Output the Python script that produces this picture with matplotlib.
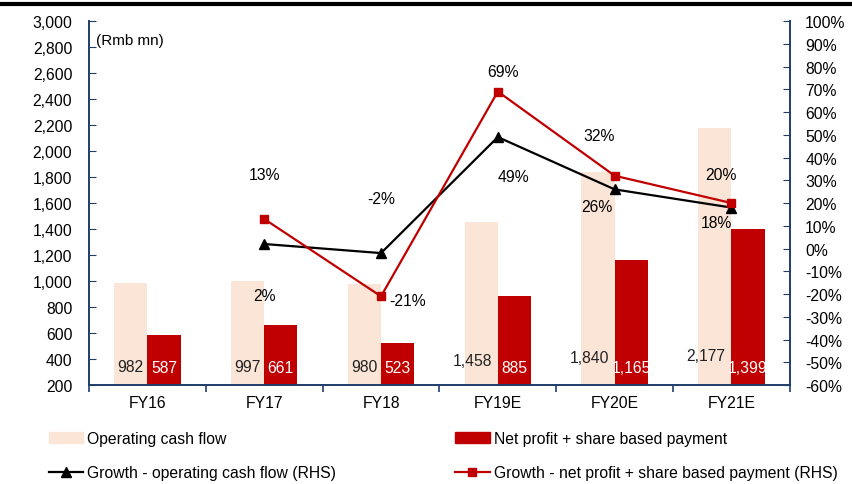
import matplotlib
matplotlib.use("Agg")
import matplotlib.pyplot as plt
from matplotlib.lines import Line2D
from matplotlib.ticker import FuncFormatter, MultipleLocator, FixedLocator
import numpy as np

plt.rcParams['font.family'] = ['Liberation Sans', 'DejaVu Sans']
plt.rcParams['font.size'] = 11.3

years = ['FY16', 'FY17', 'FY18', 'FY19E', 'FY20E', 'FY21E']
op_cash_flow = [982, 997, 980, 1458, 1840, 2177]
net_profit_sbp = [587, 661, 523, 885, 1165, 1399]
growth_ocf = [np.nan, 2, -2, 49, 26, 18]
growth_np = [np.nan, 13, -21, 69, 32, 20]

PALE = '#FBE5D6'
RED = '#C00000'
SPINE = '#1F3D6B'
FS = 11.3

fig = plt.figure(figsize=(8.53, 4.85), dpi=100)
ax = fig.add_axes([0.1043, 0.204, 0.8217, 0.7506])
ax2 = ax.twinx()

x = np.arange(len(years))
w = 0.285
ax.bar(x - w / 2, op_cash_flow, w, color=PALE, zorder=2)
ax.bar(x + w / 2, net_profit_sbp, w, color=RED, zorder=2)

# value labels near the base of each bar
pale_dy = [0, 0, 0, 6, 9, 11]
pale_dx = [0, 0, 0, -9, -9, -9]
for i in range(len(years)):
    ax.annotate(f"{op_cash_flow[i]:,}", xy=(x[i] - w / 2, 340), xytext=(pale_dx[i], pale_dy[i]),
                textcoords='offset pixels', ha='center', va='center', color='#222222', fontsize=FS)
    ax.annotate(f"{net_profit_sbp[i]:,}", xy=(x[i] + w / 2, 340), xytext=(0, -1),
                textcoords='offset pixels', ha='center', va='center', color='white', fontsize=FS)

ax.set_ylim(200, 3000)
ax.set_xlim(-0.5, 5.5)
ax.yaxis.set_major_locator(MultipleLocator(200))
ax.yaxis.set_major_formatter(FuncFormatter(lambda v, p: f"{int(v):,}"))

ax2.set_ylim(-60, 100)
ax2.yaxis.set_major_locator(MultipleLocator(10))
ax2.yaxis.set_major_formatter(FuncFormatter(lambda v, p: f"{int(round(v))}%"))

ax2.plot(x, growth_ocf, color='black', lw=1.6, marker='^', ms=6.5, zorder=4)
ax2.plot(x, growth_np, color=RED, lw=1.6, marker='s', ms=6, zorder=4)

ocf_off = [None, (0, -52), (0, 55), (16, -39), (-18, -17), (-15, -15)]
np_off = [None, (0, 44), (27, -4), (5, 20), (-16, 40), (-11, 29)]
for i in range(1, len(years)):
    ax2.annotate(f"{growth_ocf[i]}%", xy=(x[i], growth_ocf[i]), xytext=ocf_off[i],
                 textcoords='offset pixels', ha='center', va='center', fontsize=FS)
    ax2.annotate(f"{growth_np[i]}%", xy=(x[i], growth_np[i]), xytext=np_off[i],
                 textcoords='offset pixels', ha='center', va='center', fontsize=FS)

ax.text(0.01, 2800, "(Rmb mn)", transform=ax.get_yaxis_transform(),
        ha='left', va='bottom', fontsize=FS - 0.3)

# spines and ticks
for a in (ax, ax2):
    a.spines['top'].set_visible(False)
    for s in ('left', 'right', 'bottom'):
        a.spines[s].set_color(SPINE)
        a.spines[s].set_linewidth(1.2)
ax.tick_params(axis='y', direction='in', length=5, color=SPINE, labelsize=FS, pad=12)
ax2.tick_params(axis='y', direction='in', length=5, color=SPINE, labelsize=FS, pad=11)
ax.set_xticks(x)
ax.set_xticklabels(years, fontsize=FS)
ax.xaxis.set_minor_locator(FixedLocator(np.arange(-0.5, 6, 1)))
ax.tick_params(axis='x', which='major', length=0, pad=7)
ax.tick_params(axis='x', which='minor', direction='out', length=5, color=SPINE, width=1.2)

# heavy rule across the top
fig.add_artist(Line2D([0, 1], [0.99, 0.99], transform=fig.transFigure, color='black', lw=3))

handles = [
    plt.Rectangle((0, 0), 1, 1, color=PALE),
    Line2D([], [], color='black', lw=1.6, marker='^', ms=6.5),
    plt.Rectangle((0, 0), 1, 1, color=RED),
    Line2D([], [], color=RED, lw=1.6, marker='s', ms=6),
]
labels = ['Operating cash flow', 'Growth - operating cash flow (RHS)',
          'Net profit + share based payment', 'Growth - net profit + share based payment (RHS)']
fig.legend(handles, labels, ncol=2, loc='lower left', bbox_to_anchor=(0.045, -0.013),
           frameon=False, fontsize=FS, handlelength=2.2, handletextpad=0.25,
           columnspacing=7.6, labelspacing=1.2, borderaxespad=0.25)

fig.savefig('out.png', dpi=100)
